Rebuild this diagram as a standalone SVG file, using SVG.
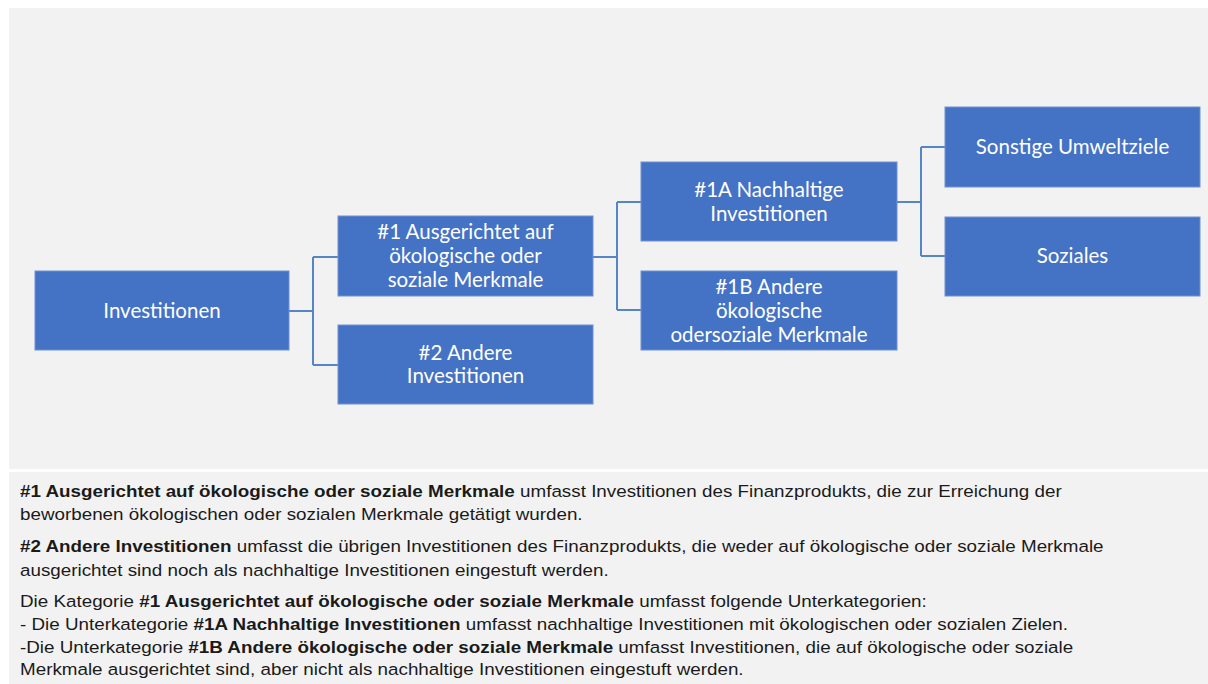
<svg xmlns="http://www.w3.org/2000/svg" width="1208" height="684" viewBox="0 0 1208 684">
<style>
.panel{fill:#F2F2F2}
.box{fill:#4472C4;stroke:#7090CF;stroke-width:1}
.nt{font-family:Lato,"Liberation Sans",sans-serif;font-size:20.5px;fill:#FFFFFF;text-anchor:middle}
.conn{fill:none;stroke:#5585C2;stroke-width:2}
.bt{font-family:"Liberation Sans",Arial,sans-serif;font-size:16.3px;fill:#1A1A1A}
.b{font-weight:bold}
</style>
<rect width="1208" height="684" fill="#FFFFFF"/>
<rect class="panel" x="9" y="8" width="1199" height="461"/>
<rect class="panel" x="9" y="472" width="1199" height="212"/>
<g id="connectors">
<path class="conn" d="M289 311 H313 M313 257 V365 M313 257 H338 M313 365 H338"/>
<path class="conn" d="M593 257 H617 M617 202 V310 M617 202 H641 M617 310 H641"/>
<path class="conn" d="M897 202 H921 M921 147 V256 M921 147 H945 M921 256 H945"/>
</g>
<g id="investitionen">
<rect class="box" x="35" y="271" width="254" height="79"/>
<text class="nt" x="162" y="318">Investitionen</text>
</g>
<g id="n1">
<rect class="box" x="338" y="216" width="255" height="80"/>
<text class="nt" x="465.5" y="239">#1 Ausgerichtet auf</text>
<text class="nt" x="465.5" y="263">ökologische oder</text>
<text class="nt" x="465.5" y="287">soziale Merkmale</text>
</g>
<g id="n2">
<rect class="box" x="338" y="325" width="255" height="79"/>
<text class="nt" x="465.5" y="360">#2 Andere</text>
<text class="nt" x="465.5" y="383">Investitionen</text>
</g>
<g id="n1a">
<rect class="box" x="641" y="162" width="256" height="79"/>
<text class="nt" x="769" y="197">#1A Nachhaltige</text>
<text class="nt" x="769" y="221">Investitionen</text>
</g>
<g id="n1b">
<rect class="box" x="641" y="271" width="256" height="79"/>
<text class="nt" x="769" y="294">#1B Andere</text>
<text class="nt" x="769" y="318">ökologische</text>
<text class="nt" x="769" y="342">odersoziale Merkmale</text>
</g>
<g id="sonstige">
<rect class="box" x="945" y="107" width="255" height="80"/>
<text class="nt" x="1072.5" y="154">Sonstige Umweltziele</text>
</g>
<g id="soziales">
<rect class="box" x="945" y="217" width="255" height="79"/>
<text class="nt" x="1072.5" y="263">Soziales</text>
</g>
<g id="legend" transform="translate(20,0) scale(1.155,1)">
<text class="bt" x="0" y="497"><tspan class="b">#1 Ausgerichtet auf ökologische oder soziale Merkmale</tspan> umfasst Investitionen des Finanzprodukts, die zur Erreichung der</text>
<text class="bt" x="0" y="520">beworbenen ökologischen oder sozialen Merkmale getätigt wurden.</text>
<text class="bt" x="0" y="552"><tspan class="b">#2 Andere Investitionen</tspan> umfasst die übrigen Investitionen des Finanzprodukts, die weder auf ökologische oder soziale Merkmale</text>
<text class="bt" x="0" y="576">ausgerichtet sind noch als nachhaltige Investitionen eingestuft werden.</text>
<text class="bt" x="0" y="607.5">Die Kategorie <tspan class="b">#1 Ausgerichtet auf ökologische oder soziale Merkmale</tspan> umfasst folgende Unterkategorien:</text>
<text class="bt" x="0" y="630.5">- Die Unterkategorie <tspan class="b">#1A Nachhaltige Investitionen</tspan> umfasst nachhaltige Investitionen mit ökologischen oder sozialen Zielen.</text>
<text class="bt" x="0" y="653">-Die Unterkategorie <tspan class="b">#1B Andere ökologische oder soziale Merkmale</tspan> umfasst Investitionen, die auf ökologische oder soziale</text>
<text class="bt" x="0" y="675.5">Merkmale ausgerichtet sind, aber nicht als nachhaltige Investitionen eingestuft werden.</text>
</g>
</svg>
